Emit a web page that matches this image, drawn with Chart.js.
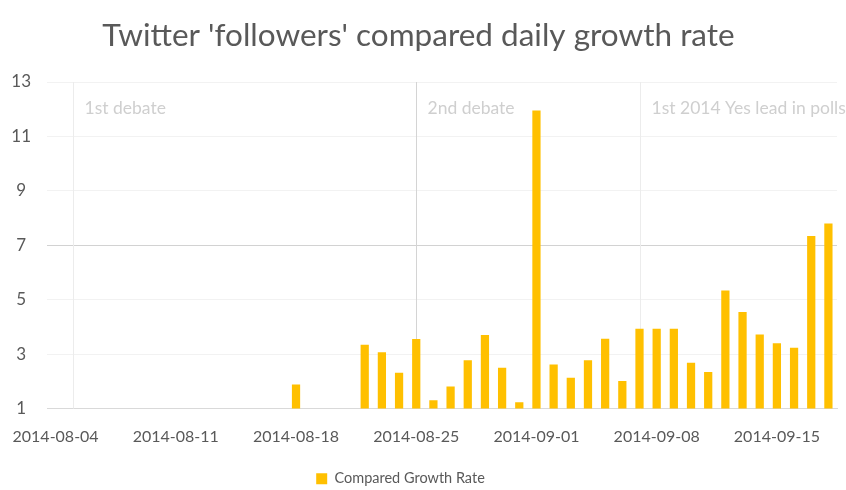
<!DOCTYPE html>
<html>
<head>
<meta charset="utf-8">
<title>Twitter 'followers' compared daily growth rate</title>
<script src="https://cdn.jsdelivr.net/npm/chart.js@4/dist/chart.umd.min.js"></script>
<style>
  html, body { margin: 0; padding: 0; background: #ffffff; }
  #wrap { width: 846px; height: 490px; }
</style>
</head>
<body>
<div id="wrap"><canvas id="chart" width="846" height="490"></canvas></div>
<script>
// Daily categories, 4 Aug – 18 Sep 2014
const days = [
  '2014-08-04','2014-08-05','2014-08-06','2014-08-07','2014-08-08','2014-08-09','2014-08-10',
  '2014-08-11','2014-08-12','2014-08-13','2014-08-14','2014-08-15','2014-08-16','2014-08-17',
  '2014-08-18','2014-08-19','2014-08-20','2014-08-21','2014-08-22','2014-08-23','2014-08-24',
  '2014-08-25','2014-08-26','2014-08-27','2014-08-28','2014-08-29','2014-08-30','2014-08-31',
  '2014-09-01','2014-09-02','2014-09-03','2014-09-04','2014-09-05','2014-09-06','2014-09-07',
  '2014-09-08','2014-09-09','2014-09-10','2014-09-11','2014-09-12','2014-09-13','2014-09-14',
  '2014-09-15','2014-09-16','2014-09-17','2014-09-18'
];

// Compared growth rate per day (null = no data)
const growthRate = [
  null, null, null, null, null, null, null,
  null, null, null, null, null, null, null,
  1.88, null, null, null, 3.34, 3.07, 2.31,
  3.55, 1.30, 1.81, 2.77, 3.70, 2.50, 1.23,
  11.95, 2.62, 2.13, 2.77, 3.56, 2.01, 3.93,
  3.93, 3.93, 2.68, 2.34, 5.34, 4.55, 3.72,
  3.40, 3.23, 7.34, 7.80
];

// Dates labelled on the x axis (weekly)
const weekLabels = ['2014-08-04','2014-08-11','2014-08-18','2014-08-25','2014-09-01','2014-09-08','2014-09-15'];

// Y axis ticks
const yTicks = [1, 3, 5, 7, 9, 11, 13];

// Campaign events marked on the chart
const eventDates = ['2014-08-05', '2014-08-25', '2014-09-07'];
const eventNames = ['1st debate', '2nd debate', '1st 2014 Yes lead in polls'];

const GOLD = '#FFC000';
const TEXT = '#595959';

Chart.defaults.font.family = 'Lato, "Open Sans", sans-serif';
Chart.defaults.color = TEXT;

// Vertical marker lines with captions for the campaign events
const eventMarkers = {
  id: 'eventMarkers',
  beforeDatasetsDraw(chart) {
    const { ctx, chartArea, scales } = chart;
    ctx.save();
    eventDates.forEach((d, i) => {
      const x = Math.round(scales.x.getPixelForValue(days.indexOf(d))) + 0.5;
      ctx.strokeStyle = i === 1 ? '#d4d4d4' : '#ececec';
      ctx.lineWidth = 1;
      ctx.beginPath();
      ctx.moveTo(x, chartArea.top);
      ctx.lineTo(x, chartArea.bottom);
      ctx.stroke();
      ctx.fillStyle = '#cfcfcf';
      ctx.font = '17.5px Lato, "Open Sans", sans-serif';
      ctx.textBaseline = 'middle';
      ctx.textAlign = 'left';
      ctx.fillText(eventNames[i], x + 11, chartArea.top + 26);
    });
    ctx.restore();
  }
};

// Nudge the legend block slightly left and down under the plot
const legendPlacement = {
  id: 'legendPlacement',
  afterLayout(chart) {
    const lg = chart.legend;
    if (!lg) return;
    lg.left -= 18; lg.right -= 18;
    lg.top += 6; lg.bottom += 6;
  }
};

new Chart(document.getElementById('chart'), {
  type: 'bar',
  data: {
    labels: days,
    datasets: [{
      label: 'Compared Growth Rate',
      data: growthRate,
      backgroundColor: GOLD,
      borderWidth: 0,
      categoryPercentage: 1,
      barPercentage: 0.48
    }]
  },
  options: {
    responsive: false,
    animation: false,
    layout: { padding: { left: 0, right: 9, top: 0, bottom: 0 } },
    plugins: {
      title: {
        display: true,
        text: "Twitter 'followers' compared daily growth rate",
        color: TEXT,
        font: { size: 31.5, weight: 'normal' },
        padding: { top: 17, bottom: 27.2 }
      },
      legend: {
        position: 'bottom',
        labels: {
          boxWidth: 11,
          boxHeight: 11,
          padding: 4,
          color: TEXT,
          font: { size: 14.5 }
        }
      },
      tooltip: { enabled: false }
    },
    scales: {
      x: {
        grid: {
          offset: true,
          drawOnChartArea: false,
          drawTicks: true,
          tickLength: 17,
          tickColor: 'rgba(0,0,0,0)'
        },
        border: { color: '#d9d9d9' },
        ticks: {
          autoSkip: false,
          maxRotation: 0,
          padding: 2,
          color: TEXT,
          font: { size: 16 },
          callback: (v, i) => (weekLabels.includes(days[i]) ? days[i] : '')
        },
        afterFit: (s) => { s.height = 53; }
      },
      y: {
        min: yTicks[0],
        max: yTicks[yTicks.length - 1],
        afterBuildTicks: (s) => { s.ticks = yTicks.map(v => ({ value: v })); },
        grid: {
          drawTicks: false,
          color: (c) => (c.tick && c.tick.value === 7 ? '#d2d2d2' : (c.tick && c.tick.value === 1 ? '#d9d9d9' : '#f2f2f2'))
        },
        border: { display: false },
        ticks: {
          padding: 16,
          crossAlign: 'center',
          color: TEXT,
          font: { size: 17 }
        },
        afterFit: (s) => { s.width = 47; }
      }
    }
  },
  plugins: [eventMarkers, legendPlacement]
});
</script>
</body>
</html>
